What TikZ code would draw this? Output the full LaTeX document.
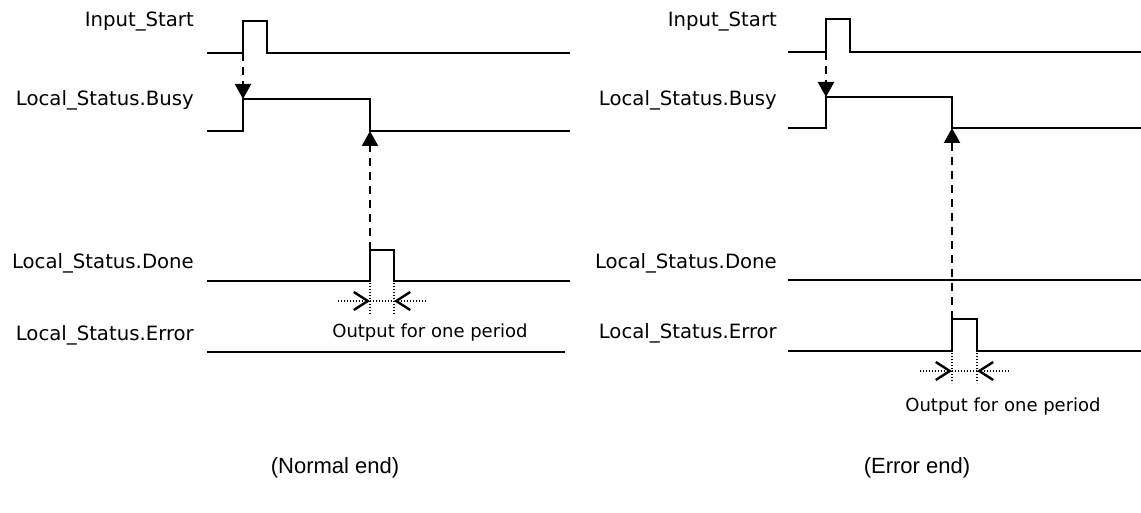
\documentclass[tikz,border=0pt]{standalone}
\usepackage{fontspec}
\setmainfont{Liberation Sans}
\newfontfamily\labfont{DejaVu Sans}
\usetikzlibrary{arrows.meta}
\tikzset{
  sig/.style={line width=2.2pt, line join=miter},
  lab/.style={anchor=east, inner sep=0pt, font=\labfont\fontsize{19.7}{22}\selectfont},
  note/.style={inner sep=0pt, font=\labfont\fontsize{18}{21}\selectfont},
  captxt/.style={inner sep=0pt, font=\fontsize{22}{25}\selectfont},
  evarrow/.style={line width=2.2pt, dash pattern=on 8pt off 6pt, -{Triangle[length=15pt,width=16pt]}},
  dotv/.style={line width=1.2pt, dash pattern=on 1.2pt off 1.8pt},
  period/.style={line width=1.2pt, dash pattern=on 1.2pt off 1.8pt, -{Straight Barb[length=14pt,width=18pt,line width=2.4pt]}},
}
\begin{document}
\begin{tikzpicture}[x=1pt,y=-1pt]
\useasboundingbox (0,0) rectangle (1141,513);
% ---------- left panel ----------
\node[lab] (LIn) at (194,22) {Input\_Start};
\node[lab] (LBu) at (194,100) {Local\_Status.Busy};
\node[lab] (LDo) at (194,263) {Local\_Status.Done};
\node[lab] (LEr) at (194,335) {Local\_Status.Error};
\coordinate (ai) at (243,53);
\coordinate (ab) at (243,99);
\coordinate (bd) at (370,131);
\coordinate (dd) at (370,250);
\draw[sig] (207,53) -- (243,53) -- (243,21) -- (267,21) -- (267,53) -- (570,53);
\draw[sig] (207,131) -- (243,131) -- (243,99) -- (370,99) -- (370,131) -- (570,131);
\draw[sig] (207,281) -- (370,281) -- (370,250) -- (394,250) -- (394,281) -- (570,281);
\draw[sig] (207,352) -- (565,352);
\draw[evarrow] (ai) -- (ab);
\draw[evarrow] (dd) -- (bd);
\coordinate (lp1) at (370,301);
\coordinate (lp2) at (394,301);
\draw[dotv] (370,283) -- (370,314);
\draw[dotv] (394,283) -- (394,314);
\draw[dotv] (lp1) -- (lp2);
\draw[period] (338,301) -- (lp1);
\draw[period] (426,301) -- (lp2);
\node[note] (LOut) at (430,333) {Output for one period};
\node[captxt] (LCap) at (335,468) {(Normal end)};
% ---------- right panel ----------
\node[lab] (RIn) at (777,22) {Input\_Start};
\node[lab] (RBu) at (777,100) {Local\_Status.Busy};
\node[lab] (RDo) at (777,263) {Local\_Status.Done};
\node[lab] (REr) at (777,333) {Local\_Status.Error};
\coordinate (ri) at (826,52);
\coordinate (rb) at (826,97);
\coordinate (rbd) at (952,128);
\coordinate (red) at (952,319);
\draw[sig] (788,52) -- (826,52) -- (826,19) -- (850,19) -- (850,52) -- (1141,52);
\draw[sig] (788,128) -- (826,128) -- (826,97) -- (952,97) -- (952,128) -- (1141,128);
\draw[sig] (788,280) -- (1141,280);
\draw[sig] (788,351) -- (952,351) -- (952,319) -- (977,319) -- (977,351) -- (1141,351);
\draw[evarrow] (ri) -- (rb);
\draw[evarrow] (red) -- (rbd);
\coordinate (rp1) at (952,371);
\coordinate (rp2) at (977,371);
\draw[dotv] (952,353) -- (952,383);
\draw[dotv] (977,353) -- (977,383);
\draw[dotv] (rp1) -- (rp2);
\draw[period] (920,371) -- (rp1);
\draw[period] (1009,371) -- (rp2);
\node[note] (ROut) at (1003,407) {Output for one period};
\node[captxt] (RCap) at (917,468) {(Error end)};
\end{tikzpicture}
\end{document}
